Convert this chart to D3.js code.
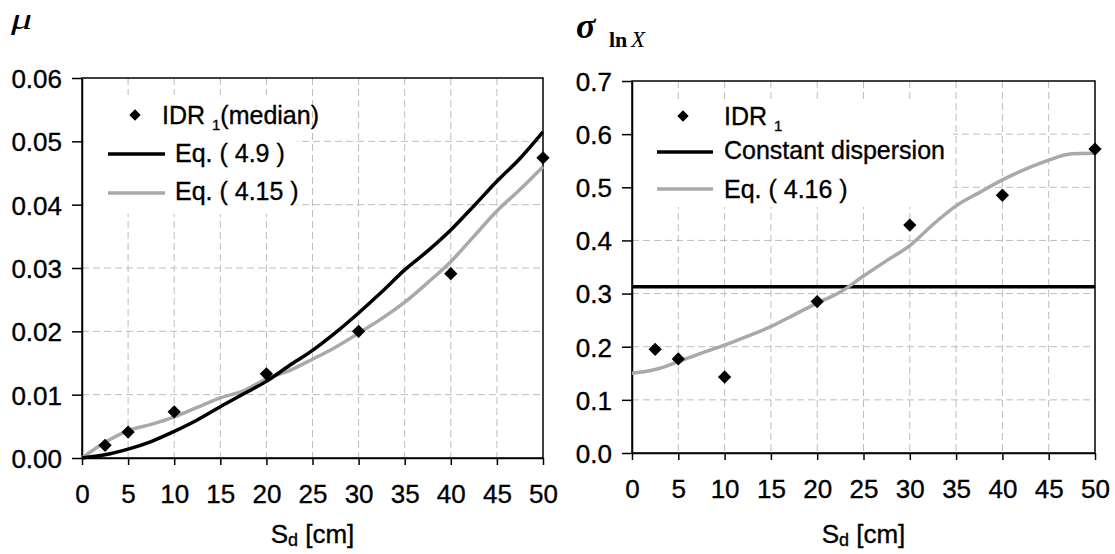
<!DOCTYPE html>
<html>
<head>
<meta charset="utf-8">
<script src="https://cdn.jsdelivr.net/npm/d3@7"></script>
<style>
  body { margin: 0; background: #fff; }
</style>
</head>
<body>
<svg id="chart" width="1115" height="554" font-family="Liberation Sans, Arial, sans-serif"></svg>
<script>
// x values of the fitted curves (Sd in cm)
const sd = [0, 2.5, 5, 7.5, 10, 12.5, 15, 17.5, 20, 22.5, 25, 27.5, 30, 32.5, 35, 37.5, 40, 42.5, 45, 47.5, 50];
const eq49 = [0, 0.0005, 0.0014, 0.0026, 0.0042, 0.0060, 0.0081, 0.0101, 0.0121, 0.0146, 0.0170, 0.0198, 0.0229, 0.0262, 0.0297, 0.0327, 0.0360, 0.0398, 0.0437, 0.0473, 0.0515];
const eq415 = [0, 0.0025, 0.0043, 0.0053, 0.0065, 0.0080, 0.0095, 0.0106, 0.0125, 0.0138, 0.0156, 0.0175, 0.0197, 0.0220, 0.0246, 0.0277, 0.0310, 0.0350, 0.0390, 0.0424, 0.0460];
const eq416 = [0.150, 0.157, 0.172, 0.188, 0.203, 0.220, 0.238, 0.260, 0.282, 0.303, 0.333, 0.362, 0.390, 0.430, 0.465, 0.490, 0.514, 0.534, 0.551, 0.563, 0.564];

// IDR1 points
const idrX = [2.5, 5, 10, 20, 30, 40, 50];
const idrMedian = [0.0020, 0.0041, 0.0073, 0.0133, 0.0200, 0.0291, 0.0474];
const idrSigma = [0.195, 0.177, 0.143, 0.285, 0.429, 0.485, 0.572];
const constSigma = 0.313;

const xTicks = [0, 5, 10, 15, 20, 25, 30, 35, 40, 45, 50];
const muTicks = [0, 0.01, 0.02, 0.03, 0.04, 0.05, 0.06];
const sigmaTicks = [0, 0.1, 0.2, 0.3, 0.4, 0.5, 0.6, 0.7];

const svg = d3.select("#chart");
const gray = "#a9a9a9";
const sans = "Liberation Sans, Arial, sans-serif";
const serif = "Liberation Serif, Times New Roman, serif";
const diamond = d3.symbol(d3.symbolSquare, 88)();
const keyDiamond = d3.symbol(d3.symbolSquare, 64)();

// slightly heavier text, like the original rendering
function ink(t) {
  return t.attr("fill", "#000").attr("stroke", "#000").attr("stroke-width", 0.35);
}

function drawPanel(p) {
  const x = d3.scaleLinear().domain([0, 50]).range([p.x0, p.x1]);
  const y = d3.scaleLinear().domain(p.yDomain).range([p.y1, p.y0]);
  const g = svg.append("g");

  // dashed grid
  g.selectAll(".vg").data(xTicks.slice(1, -1)).enter().append("line")
    .attr("x1", d => x(d)).attr("x2", d => x(d))
    .attr("y1", p.y0).attr("y2", p.y1)
    .attr("stroke", "#bdbdbd").attr("stroke-width", 1).attr("stroke-dasharray", "7,4");
  g.selectAll(".hg").data(p.yTicks.slice(1, -1)).enter().append("line")
    .attr("x1", p.x0).attr("x2", p.x1)
    .attr("y1", d => y(d)).attr("y2", d => y(d))
    .attr("stroke", "#bdbdbd").attr("stroke-width", 1).attr("stroke-dasharray", "7,4");

  // legend background hides the grid
  g.append("rect").attr("x", p.legend.x).attr("y", p.legend.y)
    .attr("width", p.legend.w).attr("height", p.legend.h).attr("fill", "#fff");

  // frame
  g.append("rect").attr("x", p.x0).attr("y", p.y0)
    .attr("width", p.x1 - p.x0).attr("height", p.y1 - p.y0)
    .attr("fill", "none").attr("stroke", "#000").attr("stroke-width", 1.5);

  // axes
  const ax = g.append("g").attr("transform", `translate(0,${p.y1})`)
    .call(d3.axisBottom(x).tickValues(xTicks).tickSize(7).tickSizeOuter(0).tickPadding(19).tickFormat(d3.format("d")));
  const ay = g.append("g").attr("transform", `translate(${p.x0},0)`)
    .call(d3.axisLeft(y).tickValues(p.yTicks).tickSize(10).tickSizeOuter(0).tickPadding(10).tickFormat(d3.format(p.fmt)));
  [ax, ay].forEach(a => {
    a.attr("font-family", sans).attr("font-size", 26);
    a.select(".domain").attr("stroke", "#000").attr("stroke-width", 1.5);
    a.selectAll(".tick line").attr("stroke", "#000").attr("stroke-width", 1.5);
    ink(a.selectAll(".tick text"));
  });
  ax.selectAll(".tick text").attr("dy", "0.72em");
  ay.selectAll(".tick text").attr("dy", "0.36em");

  // curves
  p.lines.forEach(s => {
    g.append("path")
      .datum(s.xs.map((v, i) => [v, s.ys[i]]))
      .attr("fill", "none").attr("stroke", s.color).attr("stroke-width", 3.5)
      .attr("stroke-linejoin", "round")
      .attr("d", d3.line().x(d => x(d[0])).y(d => y(d[1])).curve(d3.curveMonotoneX));
  });

  // points
  g.selectAll(".pt").data(idrX.map((v, i) => [v, p.points[i]])).enter().append("path")
    .attr("d", diamond)
    .attr("transform", d => `translate(${x(d[0])},${y(d[1])}) rotate(45)`)
    .attr("fill", "#000");

  // x axis title
  const xt = ink(g.append("text")).attr("x", (p.x0 + p.x1) / 2).attr("y", 543)
    .attr("text-anchor", "middle").attr("font-size", 26);
  xt.append("tspan").text("S");
  xt.append("tspan").text("d").attr("font-size", 18).attr("dy", 3);
  xt.append("tspan").text(" [cm]").attr("dy", -3);

  // legend entries
  const L = p.legend;
  g.append("path").attr("d", keyDiamond)
    .attr("transform", `translate(${L.mx},${L.rows[0]}) rotate(45)`).attr("fill", "#000");
  const t0 = ink(g.append("text")).attr("x", L.tx0).attr("y", L.base[0]).attr("font-size", 25);
  t0.append("tspan").text("IDR ");
  t0.append("tspan").text("1").attr("font-size", 15).attr("dy", 6);
  if (L.first) t0.append("tspan").text(L.first).attr("dy", -6);
  L.names.forEach((name, i) => {
    g.append("line").attr("x1", L.lx0).attr("x2", L.lx1)
      .attr("y1", L.rows[i + 1]).attr("y2", L.rows[i + 1])
      .attr("stroke", L.colors[i]).attr("stroke-width", 3.5);
    ink(g.append("text")).attr("x", L.tx).attr("y", L.base[i + 1])
      .attr("font-size", 25).text(name);
  });
}

drawPanel({
  x0: 82, x1: 543, y0: 78, y1: 458,
  yDomain: [0, 0.06], yTicks: muTicks, fmt: ".2f",
  lines: [
    { xs: sd, ys: eq415, color: gray },
    { xs: sd, ys: eq49, color: "#000" }
  ],
  points: idrMedian,
  legend: {
    x: 84, y: 95, w: 213, h: 119,
    mx: 135, tx0: 162, tx: 175, lx0: 108, lx1: 165,
    rows: [115, 154, 193], base: [124, 162, 200],
    first: "(median)",
    names: ["Eq. ( 4.9 )", "Eq. ( 4.15 )"], colors: ["#000", gray]
  }
});

drawPanel({
  x0: 632, x1: 1095, y0: 81, y1: 453,
  yDomain: [0, 0.7], yTicks: sigmaTicks, fmt: ".1f",
  lines: [
    { xs: [0, 50], ys: [constSigma, constSigma], color: "#000" },
    { xs: sd, ys: eq416, color: gray }
  ],
  points: idrSigma,
  legend: {
    x: 634, y: 99, w: 319, h: 108,
    mx: 683, tx0: 724, tx: 724, lx0: 657, lx1: 713,
    rows: [116, 152, 189], base: [125, 159, 198],
    first: null,
    names: ["Constant dispersion", "Eq. ( 4.16 )"], colors: ["#000", gray]
  }
});

// panel titles
svg.append("text").attr("transform", "translate(11,29) scale(1.4,1)")
  .attr("font-family", serif).attr("font-style", "italic").attr("font-size", 30).text("μ");
const st = svg.append("text").attr("x", 576).attr("y", 38).attr("font-family", serif);
st.append("tspan").text("σ").attr("font-style", "italic").attr("font-weight", "bold").attr("font-size", 36);
st.append("tspan").text("ln").attr("font-size", 22).attr("font-weight", "bold").attr("x", 609).attr("dy", 9);
st.append("tspan").text("X").attr("font-style", "italic").attr("font-size", 23).attr("x", 631);
</script>
</body>
</html>
